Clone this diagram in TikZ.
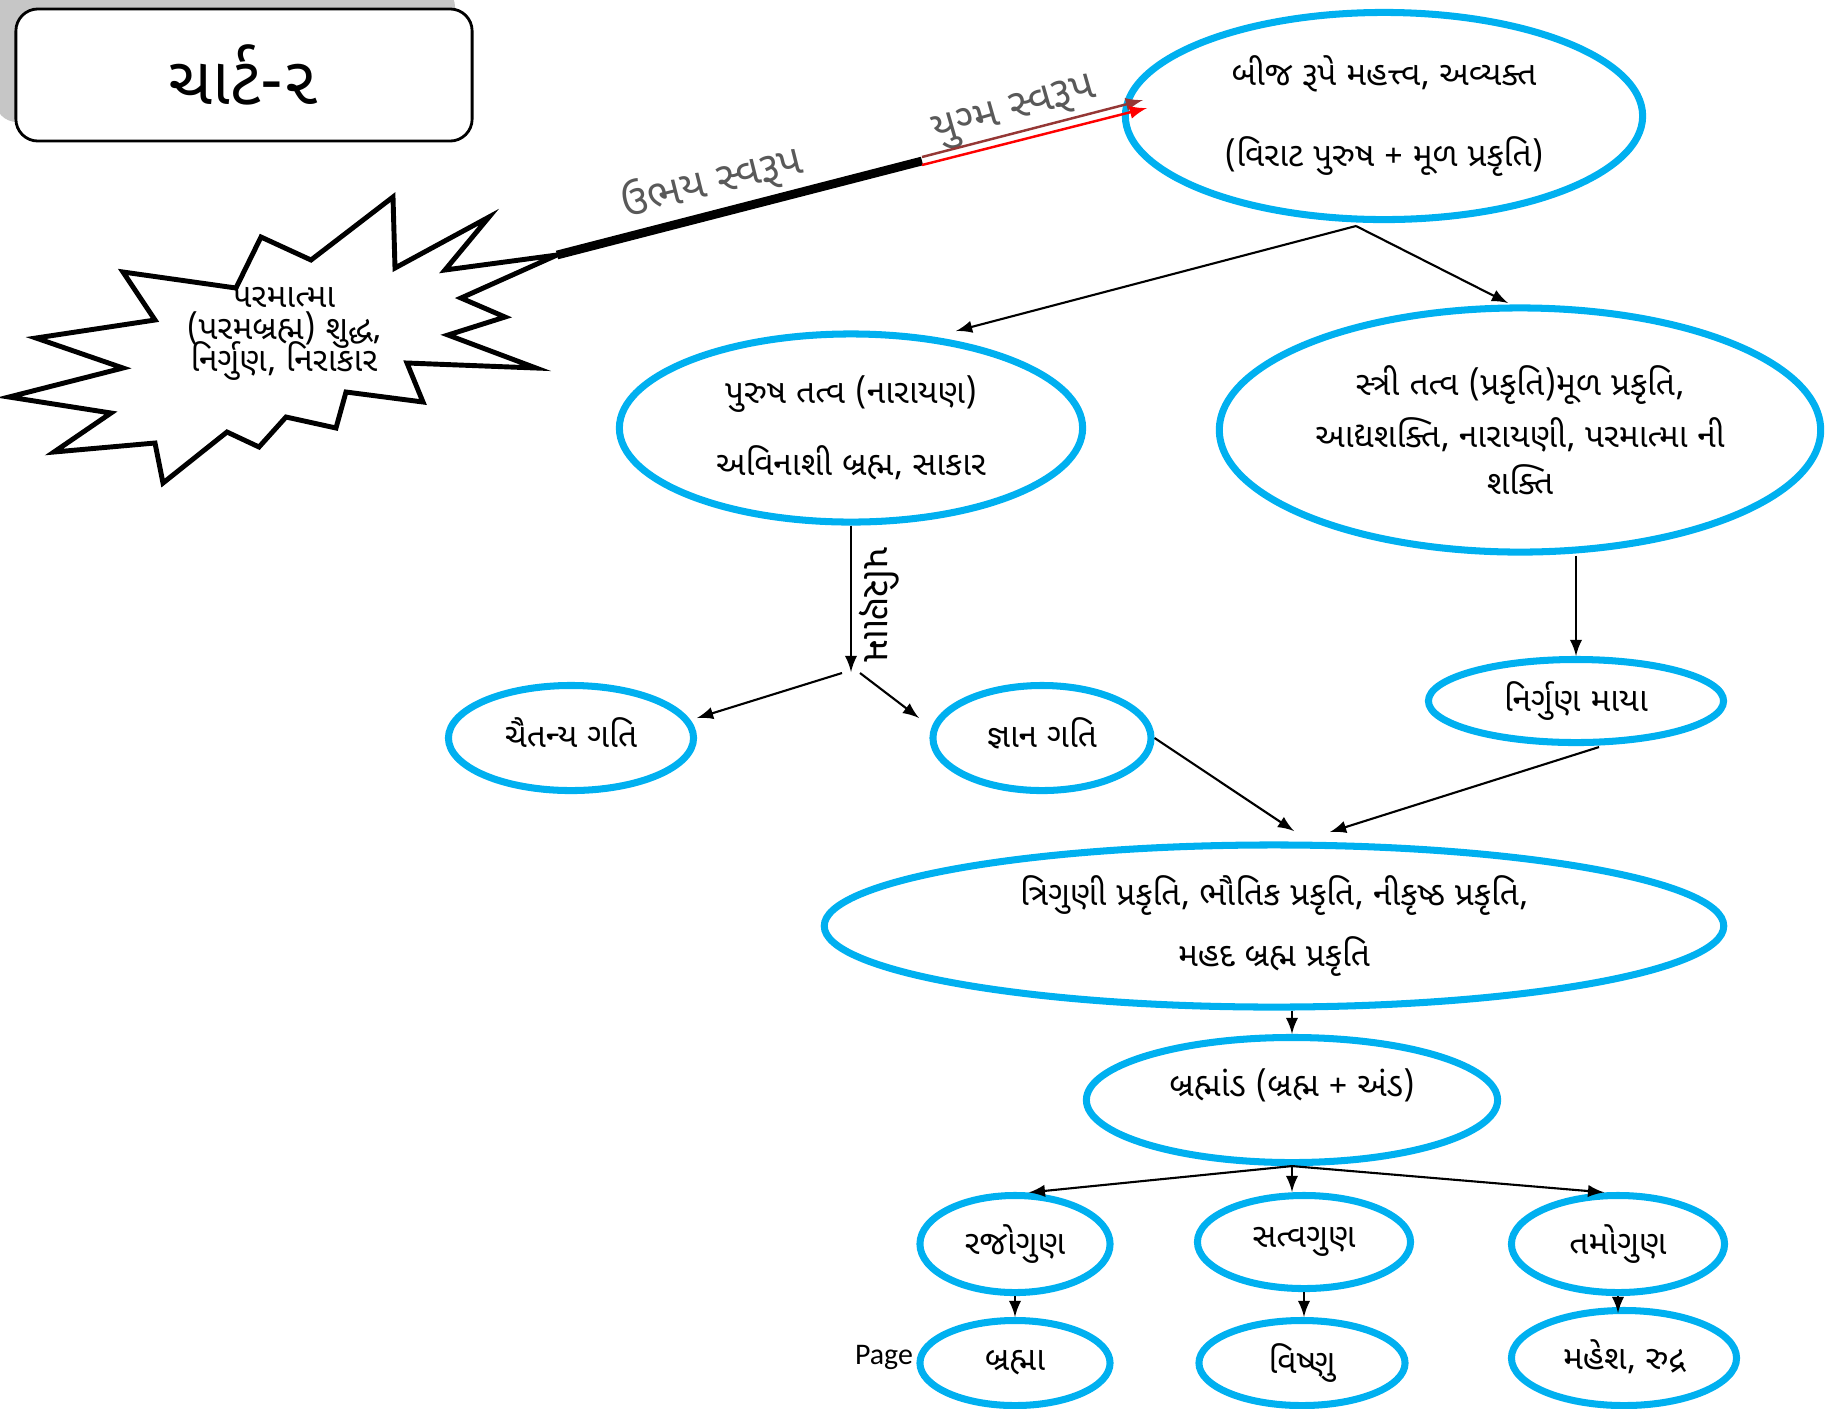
\documentclass[tikz,border=0pt]{standalone}
\usepackage{fontspec}
\newfontfamily\gujfont[Script=Gujarati]{Noto Sans Gujarati UI}
\setsansfont{Carlito}
\usetikzlibrary{shapes.geometric, arrows, positioning, calc}
\definecolor{bubbleblue}{RGB}{0,176,240}
\definecolor{darkred}{RGB}{149,55,53}
\newcommand{\tightlines}{\setlength{\lineskiplimit}{-10pt}\setlength{\lineskip}{0pt}}

\begin{document}
\begin{tikzpicture}[x=0.01cm, y=-0.01cm,
    every node/.style={font=\gujfont\fontsize{9.5}{11}\selectfont, align=center, inner sep=0pt},
    bubble/.style={ellipse, draw=bubbleblue, line width=2pt},
    link/.style={-latex, line width=0.6pt}]
    \useasboundingbox (0,0) rectangle (1833,1408);

    % Title
    \fill[gray!45, rounded corners=0.22cm] (-5,-15) rectangle (455,122);
    \node (title) [draw, rounded corners=0.22cm, fill=white, line width=0.8pt, minimum width=4.56cm, minimum height=1.32cm, font=\gujfont\fontsize{19}{22}\selectfont] at (244,75) {ચાર્ટ-૨};

    % Burst
    \draw[line width=1.4pt, fill=white] (557,255) -- (461,298) -- (505,317) -- (448,335) -- (536,368) -- (407,363) -- (423,402) -- (346,392) -- (336,428) -- (286,417) -- (259,447) -- (227,432) -- (163,483) -- (155,443) -- (54,452) -- (111,413) -- (9,397) -- (123,368) -- (36,338) -- (155,320) -- (123,272) -- (236,288) -- (261,237) -- (311,260) -- (393,197) -- (395,268) -- (489,217) -- (445,270) -- cycle;
    \node (param) [font=\gujfont\fontsize{9.5}{9.2}\selectfont\tightlines] at (284,334) {પરમાત્મા\\(પરમબ્રહ્મ) શુદ્ધ,\\નિર્ગુણ, નિરાકાર};

    % Nodes
    \node (bija) [bubble, minimum width=5.17cm, minimum height=2.07cm] at (1384,116) {બીજ રૂપે મહત્ત્વ, અવ્યક્ત\\[12pt](વિરાટ પુરુષ + મૂળ પ્રકૃતિ)};
    \node (purush) [bubble, minimum width=4.63cm, minimum height=1.88cm] at (851,428) {પુરુષ તત્વ (નારાયણ)\\[8.5pt]અવિનાશી બ્રહ્મ, સાકાર\hspace{0.6cm}};
    \node (stri) [bubble, minimum width=6.01cm, minimum height=2.44cm] at (1520,430) {સ્ત્રી તત્વ (પ્રકૃતિ)મૂળ પ્રકૃતિ,\\[2.5pt]આદ્યશક્તિ, નારાયણી, પરમાત્મા ની\\[2.5pt]શક્તિ};
    \node (chaitanya) [bubble, minimum width=2.45cm, minimum height=1.05cm] at (571,738) {\raisebox{3pt}{ચૈતન્ય ગતિ}};
    \node (jnana) [bubble, minimum width=2.18cm, minimum height=1.05cm] at (1042,738) {\raisebox{3pt}{જ્ઞાન ગતિ}};
    \node (nirguna) [bubble, minimum width=2.95cm, minimum height=0.83cm] at (1576,701) {નિર્ગુણ માયા};
    \node (triguni) [bubble, minimum width=8.99cm, minimum height=1.62cm] at (1274,926) {ત્રિગુણી પ્રકૃતિ, ભૌતિક પ્રકૃતિ, નીકૃષ્ઠ પ્રકૃતિ,\\[5pt]મહદ બ્રહ્મ પ્રકૃતિ};
    \node (brahmand) [bubble, minimum width=4.11cm, minimum height=1.25cm] at (1292,1100) {};
    \node (brahmandText) at (1292,1085) {બ્રહ્માંડ (બ્રહ્મ + અંડ)};
    \node (rajo) [bubble, minimum width=1.9cm, minimum height=0.97cm] at (1015,1244) {\raisebox{2pt}{રજોગુણ}};
    \node (satva) [bubble, minimum width=2.13cm, minimum height=0.93cm] at (1304,1242) {\raisebox{2pt}{સત્વગુણ}};
    \node (tamo) [bubble, minimum width=2.13cm, minimum height=0.97cm] at (1618,1244) {\raisebox{2pt}{તમોગુણ}};
    \node (brahma) [bubble, minimum width=1.9cm, minimum height=0.85cm] at (1015,1363) {બ્રહ્મા};
    \node (vishnu) [bubble, minimum width=2.06cm, minimum height=0.85cm] at (1302,1363) {વિષ્ણુ};
    \node (mahesh) [bubble, minimum width=2.25cm, minimum height=0.95cm] at (1624,1358) {\raisebox{2pt}{મહેશ, રુદ્ર}};
    \node (page) [font=\sffamily\fontsize{8.5}{10}\selectfont] at (884,1357) {Page};

    % Coordinates
    \coordinate (burstTip) at (557,255);
    \coordinate (joint) at (922,161);
    \coordinate (bijaInA) at (1143,100);
    \coordinate (bijaInB) at (1147,108);
    \coordinate (bijaFoot) at (1356,226);
    \coordinate (purushIn) at (956,331);
    \coordinate (striIn) at (1508,303);
    \coordinate (split) at (851,672);
    \coordinate (chaitanyaIn) at (697,718);
    \coordinate (jnanaIn) at (919,718);
    \coordinate (triguniInL) at (1294,831);
    \coordinate (triguniInR) at (1330,832);

    % Labels
    \node (ubhay) [rotate=14, text=black!65, font=\gujfont\fontsize{12}{14}\selectfont] at (712,182) {ઉભય સ્વરૂપ};
    \node (yugma) [rotate=16, text=black!65, font=\gujfont\fontsize{12}{14}\selectfont] at (1015,113) {યુગ્મ સ્વરૂપ};
    \node (parinam) [rotate=-90, font=\gujfont\fontsize{11}{12}\selectfont] at (879,605) {પરિણામ};

    % Arrows
    \draw[line width=2.5pt] (burstTip) -- (joint);
    \draw[-latex, darkred, line width=0.7pt] ($(joint)+(0,-4)$) -- (bijaInA);
    \draw[-latex, red, line width=0.7pt] ($(joint)+(0,4)$) -- (bijaInB);
    \draw[link] (bijaFoot) -- (purushIn);
    \draw[link] (bijaFoot) -- (striIn);
    \draw[link] (purush.south) -- (split);
    \draw[link] ($(split)+(-9,1)$) -- (chaitanyaIn);
    \draw[link] ($(split)+(9,1)$) -- (jnanaIn);
    \draw[link] (stri.south -| nirguna.north) -- (nirguna.north);
    \draw[link] (jnana.east) -- (triguniInL);
    \draw[link] ($(nirguna.south)+(23,1)$) -- (triguniInR);
    \draw[link] (triguni.south -| brahmand.north) -- (brahmand.north);
    \draw[link] (brahmand.south) -- (rajo.75);
    \draw[link] (brahmand.south) -- (brahmand.south |- satva.north);
    \draw[link] (brahmand.south) -- (tamo.105);
    \draw[link] (rajo.south) -- (rajo.south |- brahma.north);
    \draw[link] (satva.south) -- (satva.south |- vishnu.north);
    \draw[link] (tamo.south) -- ($(tamo.south |- mahesh.north)+(0,6)$);
\end{tikzpicture}
\end{document}
